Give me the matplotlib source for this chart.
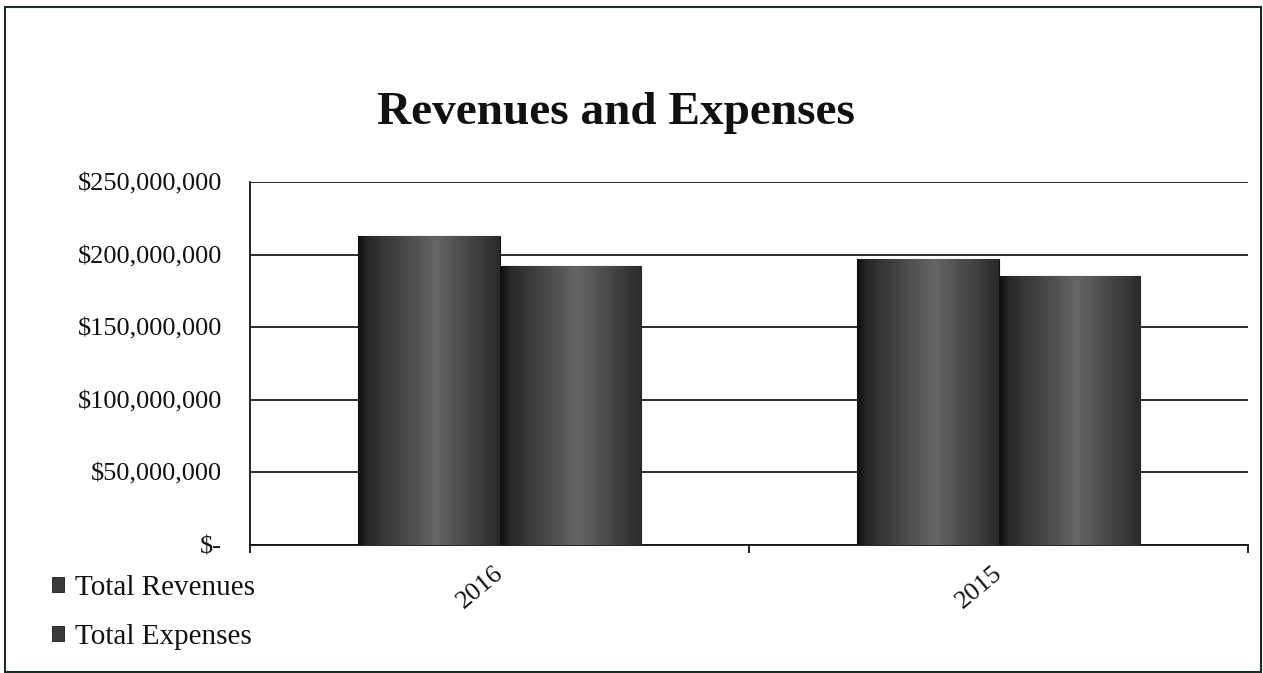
import matplotlib
matplotlib.use('Agg')
import matplotlib.pyplot as plt
import numpy as np
from matplotlib.colors import LinearSegmentedColormap
from matplotlib.patches import Rectangle
from matplotlib.ticker import FuncFormatter
from matplotlib.transforms import ScaledTranslation

# ---- data ----
years = ['2016', '2015']
series_names = ['Total Revenues', 'Total Expenses']
revenues = [213_000_000, 197_000_000]
expenses = [192_000_000, 185_000_000]
yticks = [0, 50_000_000, 100_000_000, 150_000_000, 200_000_000, 250_000_000]

plt.rcParams['font.family'] = ['Liberation Serif', 'DejaVu Serif']

W, H = 1263, 673
fig = plt.figure(figsize=(W / 100, H / 100), dpi=100)
ax = fig.add_axes([250 / W, 1 - 545 / H, 998 / W, 363 / H])

x = np.arange(len(years))
bw = 0.284
grad_cmap = LinearSegmentedColormap.from_list(
    'bar', [(0.0, '#0e0e0e'), (0.07, '#282828'), (0.55, '#646765'), (1.0, '#2a2a2a')])
grad = np.linspace(0, 1, 256).reshape(1, -1)

bars_r = ax.bar(x - bw / 2, revenues, bw, color='#444444', edgecolor='#151515',
                linewidth=0.8, zorder=3, label=series_names[0])
bars_e = ax.bar(x + bw / 2, expenses, bw, color='#444444', edgecolor='#151515',
                linewidth=0.8, zorder=3, label=series_names[1])

for p in list(bars_r) + list(bars_e):
    x0, y0 = p.get_x(), p.get_y()
    im = ax.imshow(grad, cmap=grad_cmap, aspect='auto', zorder=3.5,
                   extent=[x0, x0 + p.get_width(), y0, y0 + p.get_height()],
                   interpolation='bilinear')
    im.set_clip_path(p)

ax.set_xlim(-0.5, len(years) - 0.5)
ax.set_ylim(0, 250_000_000)

# grid & spines
ax.set_yticks(yticks)
ax.yaxis.grid(True, color='#1a1a1a', linewidth=1.3)
ax.set_axisbelow(True)
for s in ['top', 'right']:
    ax.spines[s].set_visible(False)
for s in ['left', 'bottom']:
    ax.spines[s].set_color('#111111')
    ax.spines[s].set_linewidth(1.3)

def money(v, pos):
    if v == 0:
        return '$-'
    return '${:,.0f}'.format(v)

ax.yaxis.set_major_formatter(FuncFormatter(money))
ax.tick_params(axis='y', length=0, pad=20, labelsize=19, labelcolor='#111111')

# x ticks: marks between categories, labels at centers
edges = np.arange(-0.5, len(years), 1.0)
ax.set_xticks(edges)
ax.set_xticklabels([''] * len(edges))
ax.tick_params(axis='x', which='major', length=6, width=1.3, color='#111111')
ax.set_xticks(x, years, minor=True)
ax.tick_params(axis='x', which='minor', length=0, pad=12, labelsize=19, labelcolor='#111111')
shift = ScaledTranslation(-6 / 100, 0, fig.dpi_scale_trans)
for lbl in ax.get_xticklabels(minor=True):
    lbl.set_rotation(40)
    lbl.set_ha('right')
    lbl.set_va('top')
    lbl.set_rotation_mode('anchor')
    lbl.set_transform(lbl.get_transform() + shift)

# title
fig.text(616 / W, 1 - 124 / H, 'Revenues and Expenses', ha='center', va='baseline',
         fontsize=34, fontweight='bold', color='#111111')

# legend
handles = [Rectangle((0, 0), 1, 1, facecolor='#3a3a3a', edgecolor='#151515', linewidth=0.6)
           for _ in series_names]
fig.legend(handles, series_names, loc='upper left', bbox_to_anchor=(52 / W, 1 - 575 / H),
           frameon=False, fontsize=21, handlelength=0.42, handleheight=0.42,
           handletextpad=0.38, labelspacing=0.8, borderaxespad=0, borderpad=0,
           labelcolor='#111111')

# outer border
fig.add_artist(Rectangle((5 / W, 1 / H), (1261 - 5) / W, (672 - 7) / H,
                         transform=fig.transFigure, fill=False,
                         edgecolor='#1c2b24', linewidth=1.5))

fig.savefig('out.png', dpi=100)
